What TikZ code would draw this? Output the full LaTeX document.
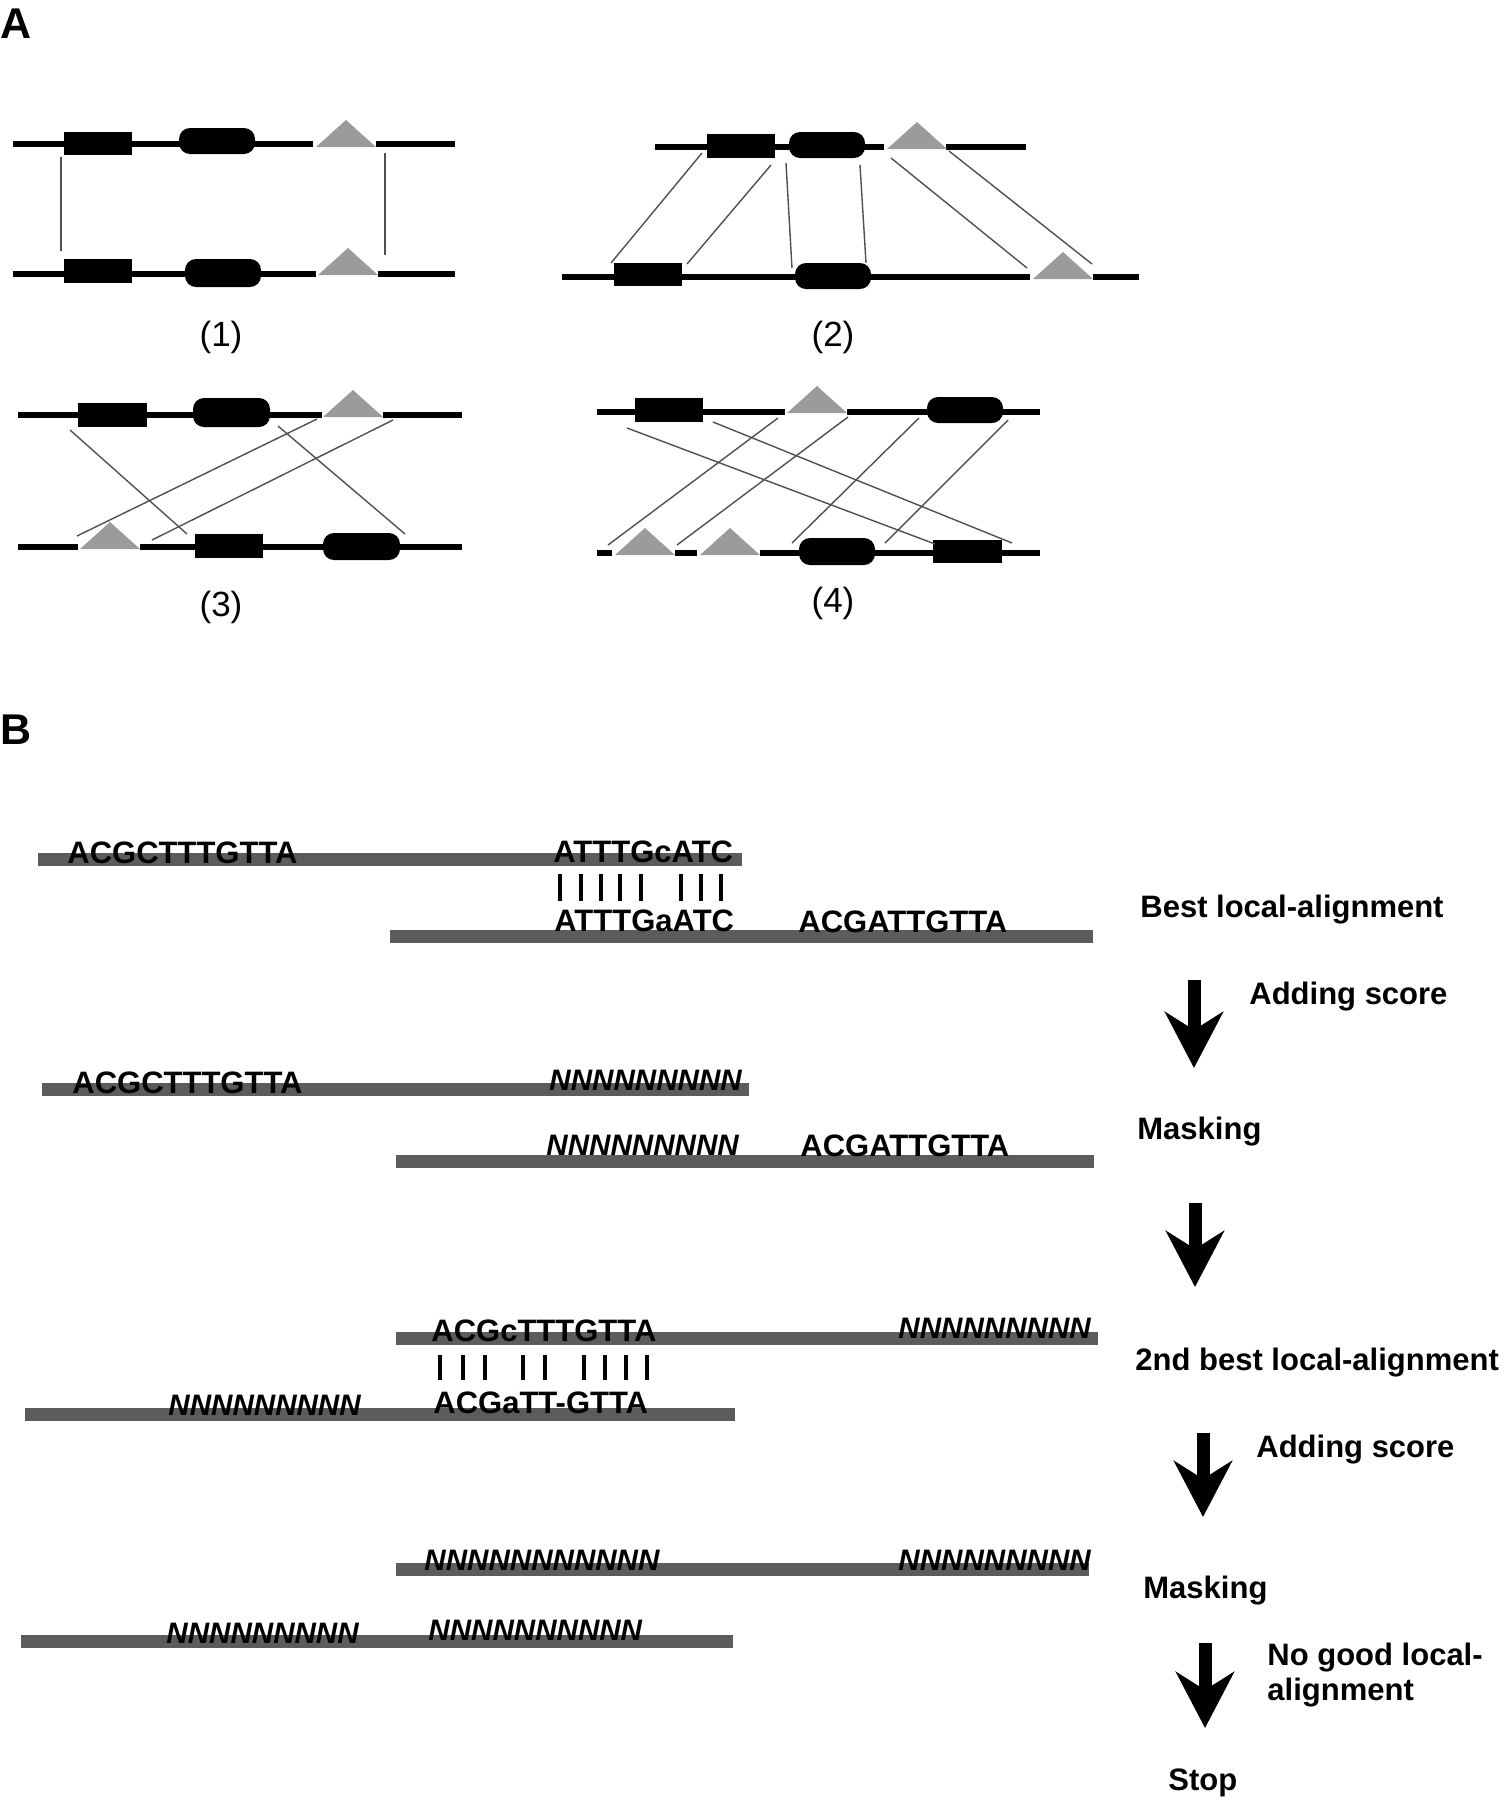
\documentclass[tikz,border=0pt]{standalone}
\usepackage{fontspec}
\setmainfont{Liberation Sans}
\usetikzlibrary{arrows.meta,calc,fit}
\definecolor{insgray}{RGB}{155,155,155}
\definecolor{linkgray}{RGB}{80,80,80}
\definecolor{bargray}{RGB}{92,92,92}
\tikzset{
  gene/.style={draw=black, line width=2.6pt},
  exon/.style={fill=black, inner sep=0pt, outer sep=0pt},
  exonr/.style={exon, rounded corners=5.5pt},
  link/.style={draw=linkgray, line width=0.7pt},
  seqbar/.style={draw=bargray, line width=6.5pt},
  pairbar/.style={draw=black, line width=2.3pt},
  seq/.style={font=\fontsize{15.5}{18}\selectfont\bfseries, inner sep=0pt, anchor=base west},
  mask/.style={font=\fontsize{14.8}{18}\selectfont\bfseries\itshape, inner sep=0pt, anchor=base west},
  steplbl/.style={font=\fontsize{15.5}{17.5}\selectfont\bfseries, inner sep=0pt, anchor=base west, align=left},
  flow/.style={-{Stealth[length=28pt,width=29pt,inset=9pt]}, draw=black, line width=6.5pt},
  panel/.style={font=\fontsize{21.5}{24}\selectfont\bfseries, inner sep=0pt, anchor=base west},
  caseno/.style={font=\fontsize{17.5}{20}\selectfont, inner sep=0pt},
}
% gray insertion triangle: name, left x, base y
\newcommand{\instri}[3]{%
  \fill[insgray] (#2,#3) coordinate (#1l) -- ++(30,-27) coordinate (#1t) -- ++(30,27) coordinate (#1r) -- cycle;}

\begin{document}
\begin{tikzpicture}[x=0.5pt, y=-0.5pt]
\useasboundingbox (0,0) rectangle (1505,1800);

\node[panel] (labA) at (0,38) {A};

% (1)
\draw[gene] (13,144) -- (313,144) (376,144) -- (455,144);
\node[exon, fit={(64,132) (132,155)}] (p1b1) {};
\node[exonr, fit={(179,128) (255,154)}] (p1r1) {};
\instri{p1ta}{316}{147}
\draw[gene] (13,274) -- (316,274) (378,274) -- (455,274);
\node[exon, fit={(64,259) (132,283)}] (p1b2) {};
\node[exonr, fit={(185,259) (261,287)}] (p1r2) {};
\instri{p1tb}{318}{275}
\draw[link] ($(p1b1.south west)+(-3,2)$) -- ($(p1b2.north west)+(-3,-8)$);
\draw[link] ($(p1tar)+(9,6)$) -- ($(p1tbr)+(7,-20)$);
\node[caseno] (c1) at (221,337) {(1)};

% (2)
\draw[gene] (655,147) -- (884,147) (946,147) -- (1026,147);
\node[exon, fit={(707,134) (775,158)}] (p2b1) {};
\node[exonr, fit={(789,132) (865,158)}] (p2r1) {};
\instri{p2ta}{887}{149}
\draw[gene] (562,277) -- (1030,277) (1093,277) -- (1139,277);
\node[exon, fit={(614,263) (682,286)}] (p2b2) {};
\node[exonr, fit={(795,263) (871,289)}] (p2r2) {};
\instri{p2tb}{1033}{279}
\draw[link] ($(p2b1.south west)+(-5,-5)$) -- ($(p2b2.north west)+(-3,0)$);
\draw[link] ($(p2b1.south east)+(-4,7)$) -- ($(p2b2.north east)+(5,1)$);
\draw[link] ($(p2r1.south west)+(-3,5)$) -- ($(p2r2.north west)+(-3,5)$);
\draw[link] ($(p2r1.south east)+(-5,7)$) -- ($(p2r2.north east)+(-5,0)$);
\draw[link] ($(p2tal)+(4,9)$) -- ($(p2tbl)+(-6,-11)$);
\draw[link] ($(p2tar)+(2,2)$) -- ($(p2tbr)+(-1,-15)$);
\node[caseno] (c2) at (833,337) {(2)};

% (3)
\draw[gene] (18,415) -- (322,415) (383,415) -- (462,415);
\node[exon, fit={(78,403) (147,427)}] (p3b1) {};
\node[exonr, fit={(193,398) (270,427)}] (p3r1) {};
\instri{p3ta}{323}{417}
\draw[gene] (18,547) -- (78,547) (140,547) -- (462,547);
\instri{p3tb}{80}{549}
\node[exon, fit={(195,534) (263,558)}] (p3b2) {};
\node[exonr, fit={(323,533) (400,560)}] (p3r2) {};
\draw[link] ($(p3b1.south west)+(-8,3)$) -- ($(p3b2.north west)+(-8,0)$);
\draw[link] ($(p3r1.south east)+(8,-1)$) -- ($(p3r2.north east)+(5,1)$);
\draw[link] ($(p3tal)+(-6,2)$) -- ($(p3tbl)+(-3,-13)$);
\draw[link] ($(p3tar)+(10,3)$) -- ($(p3tbr)+(12,-9)$);
\node[caseno] (c3) at (221,607) {(3)};

% (4)
\draw[gene] (597,412) -- (785,412) (847,412) -- (1040,412);
\node[exon, fit={(635,398) (703,422)}] (p4b1) {};
\instri{p4ta}{787}{413}
\node[exonr, fit={(927,397) (1003,423)}] (p4r1) {};
\draw[gene] (597,553) -- (612,553) (675,553) -- (697,553) (760,553) -- (1040,553);
\instri{p4tb}{615}{555}
\instri{p4tc}{700}{555}
\node[exonr, fit={(799,538) (875,565)}] (p4r2) {};
\node[exon, fit={(933,540) (1002,563)}] (p4b2) {};
\draw[link] ($(p4b1.south west)+(-8,6)$) -- ($(p4b2.north west)+(2,4)$);
\draw[link] ($(p4b1.south east)+(10,0)$) -- ($(p4b2.north east)+(10,3)$);
\draw[link] ($(p4tal)+(-9,5)$) -- ($(p4tbl)+(-7,-10)$);
\draw[link] ($(p4tar)+(1,4)$) -- ($(p4tbr)+(2,-10)$);
\draw[link] ($(p4r1.south west)+(-8,-5)$) -- ($(p4r2.north west)+(-7,5)$);
\draw[link] ($(p4r1.south east)+(5,-3)$) -- ($(p4r2.north east)+(10,5)$);
\node[caseno] (c4) at (833,603) {(4)};

\node[panel] (labB) at (0,744) {B};

% sequence bars
\draw[seqbar] (38,859) -- (742,859);
\draw[seqbar] (390,936) -- (1093,936);
\draw[seqbar] (42,1089) -- (749,1089);
\draw[seqbar] (396,1161) -- (1094,1161);
\draw[seqbar] (396,1338) -- (1098,1338);
\draw[seqbar] (25,1414) -- (735,1414);
\draw[seqbar] (396,1569) -- (1089,1569);
\draw[seqbar] (21,1641) -- (733,1641);

\node[seq] (s1a) at (67,863) {ACGCTTTGTTA};
\node[seq] (s1b) at (553,862) {ATTTGcATC};
\node[seq] (s1c) at (554,931) {ATTTGaATC};
\node[seq] (s1d) at (798,932) {ACGATTGTTA};
\foreach \x in {560,581,601,620,641,681,701,721}
  \draw[pairbar] (\x,874) -- (\x,901);

\node[seq] (s2a) at (72,1093) {ACGCTTTGTTA};
\node[mask] (s2b) at (549,1090) {NNNNNNNNN};
\node[mask] (s2c) at (546,1155) {NNNNNNNNN};
\node[seq] (s2d) at (800,1156) {ACGATTGTTA};

\node[seq] (s3a) at (431,1341) {ACGcTTTGTTA};
\node[mask] (s3b) at (898,1338) {NNNNNNNNN};
\node[mask] (s3c) at (168,1415) {NNNNNNNNN};
\node[seq] (s3d) at (433,1413) {ACGaTT-GTTA};
\foreach \x in {440,463,485,523,545,584,605,626,647}
  \draw[pairbar] (\x,1355) -- (\x,1380);

\node[mask] (s4a) at (424,1570) {NNNNNNNNNNN};
\node[mask] (s4b) at (898,1570) {NNNNNNNNN};
\node[mask] (s4c) at (166,1643) {NNNNNNNNN};
\node[mask] (s4d) at (428,1640) {NNNNNNNNNN};

% steps
\node[steplbl] (l1) at (1140,917) {Best local-alignment};
\node[steplbl] (l2) at (1249,1004) {Adding score};
\node[steplbl] (l3) at (1137,1139) {Masking};
\node[steplbl] (l4) at (1135,1370) {2nd best local-alignment};
\node[steplbl] (l5) at (1256,1457) {Adding score};
\node[steplbl] (l6) at (1143,1598) {Masking};
\node[steplbl] (l7) at (1267,1700) {No good local-\\alignment};
\node[steplbl] (l8) at (1168,1790) {Stop};

\coordinate (f1s) at (1194,980);  \coordinate (f1e) at (1194,1068);
\coordinate (f2s) at (1195,1203); \coordinate (f2e) at (1195,1287);
\coordinate (f3s) at (1203,1433); \coordinate (f3e) at (1203,1517);
\coordinate (f4s) at (1205,1643); \coordinate (f4e) at (1205,1728);
\draw[flow] (f1s) -- (f1e);
\draw[flow] (f2s) -- (f2e);
\draw[flow] (f3s) -- (f3e);
\draw[flow] (f4s) -- (f4e);
\end{tikzpicture}
\end{document}
